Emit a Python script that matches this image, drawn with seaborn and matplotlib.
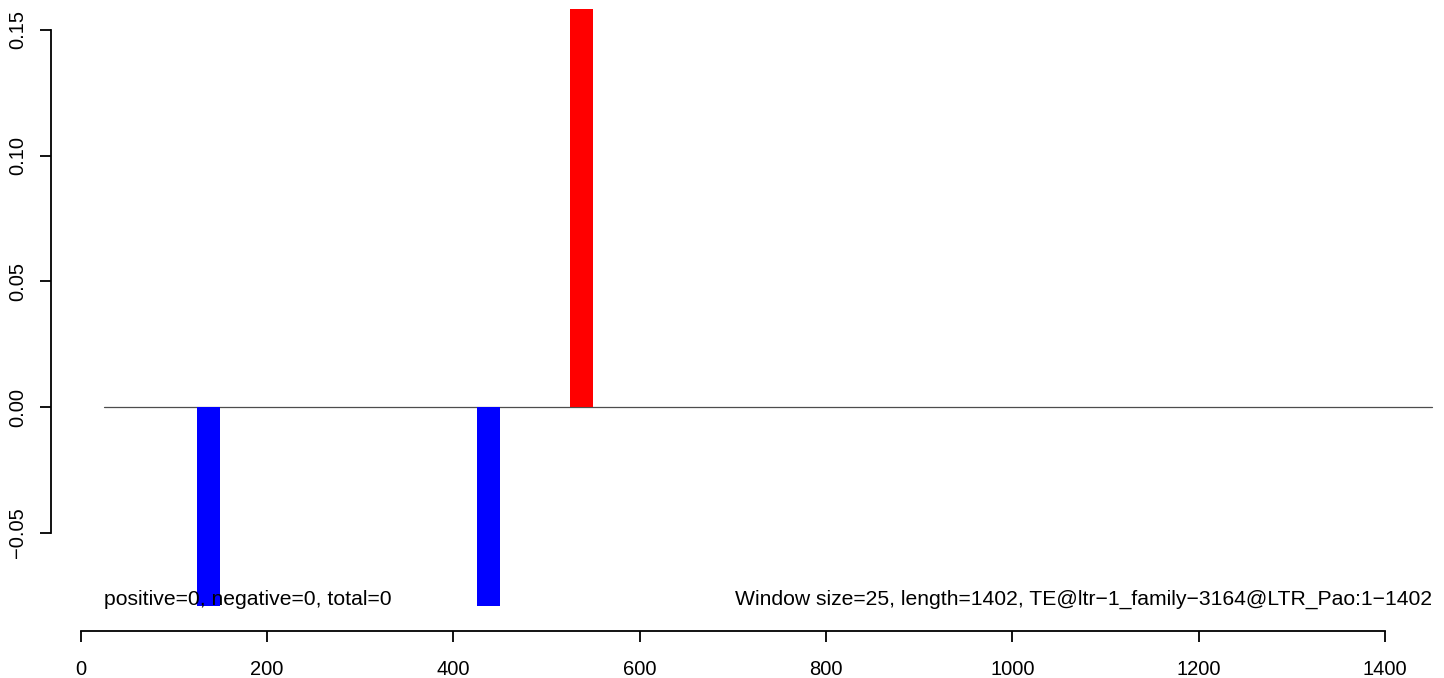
import matplotlib
matplotlib.use('Agg')
import matplotlib.pyplot as plt
import seaborn as sns
import pandas as pd

# window bars (start of each 25bp window), signed scores and strand colour
win_start = [125, 425, 525]
win_score = [-0.079, -0.079, 0.1584]
win_strand = ['minus', 'minus', 'plus']
window_size = 25
seq_start, seq_end = 25, 1450

x_ticks = [0, 200, 400, 600, 800, 1000, 1200, 1400]
y_ticks = [-0.05, 0.00, 0.05, 0.10, 0.15]
y_labels = ['\u22120.05', '0.00', '0.05', '0.10', '0.15']

left_note = 'positive=0, negative=0, total=0'
right_note = 'Window size=25, length=1402, TE@ltr\u22121_family\u22123164@LTR_Pao:1\u22121402'

sns.set_style('white')
plt.rcParams['font.family'] = ['Liberation Sans', 'DejaVu Sans']
plt.rcParams['text.color'] = 'black'
plt.rcParams['xtick.color'] = 'black'
plt.rcParams['ytick.color'] = 'black'

df = pd.DataFrame({
    'pos': [s + window_size / 2 for s in win_start],
    'score': win_score,
    'strand': win_strand,
})

fig = plt.figure(figsize=(14.44, 6.78), dpi=100)
ax = fig.add_axes([50.7 / 1444, 47 / 678, (1444 - 50.7) / 1444, 631 / 678])

# zero line across the sequence
ax.plot([seq_start, seq_end], [0, 0], color='#4d4d4d', lw=0.9, zorder=1)

sns.barplot(data=df, x='pos', y='score', hue='strand', native_scale=True,
            palette={'minus': '#0000FF', 'plus': '#FF0000'}, width=0.25,
            errorbar=None, legend=False, linewidth=0, saturation=1, ax=ax, zorder=2)

ax.text(seq_start, -0.0766, left_note, ha='left', va='center', fontsize=15.25)
ax.text(seq_end, -0.0766, right_note, ha='right', va='center', fontsize=15.25)

ax.set_xlim(-32, 1463)
ax.set_ylim(-0.089, 0.1619)
ax.set_xticks(x_ticks)
ax.set_xticklabels([str(t) for t in x_ticks])
ax.set_yticks(y_ticks)
ax.set_yticklabels(y_labels, rotation=90, va='center')
ax.set_xlabel('')
ax.set_ylabel('')

for side in ['top', 'right']:
    ax.spines[side].set_visible(False)
ax.spines['left'].set_bounds(-0.05, 0.15)
ax.spines['bottom'].set_bounds(0, 1400)
for side in ['left', 'bottom']:
    ax.spines[side].set_color('black')
    ax.spines[side].set_linewidth(1.3)
ax.tick_params(axis='both', which='major', direction='out', length=7.8, width=1.3,
               color='black', labelcolor='black', labelsize=14.5, left=True, bottom=True)
ax.tick_params(axis='y', pad=9)
ax.tick_params(axis='x', pad=13)

fig.savefig('out.png', dpi=100)
